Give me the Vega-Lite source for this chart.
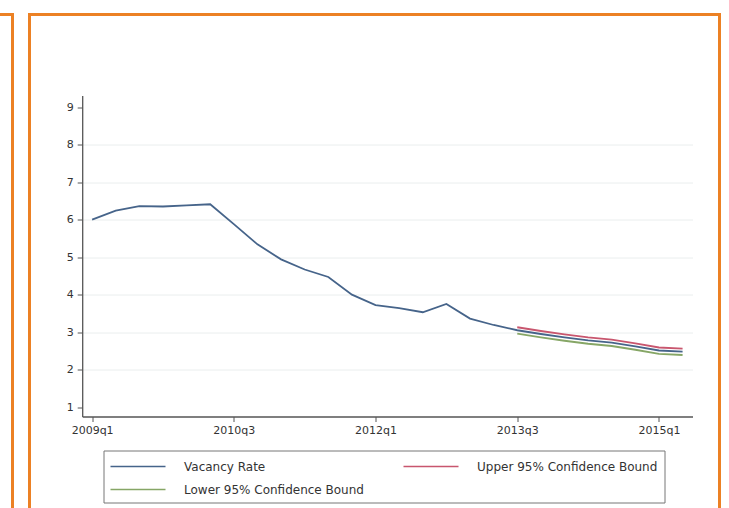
{
  "$schema": "https://vega.github.io/schema/vega-lite/v6.json",
  "padding": {"left": -42.5, "top": 12.5, "right": 0, "bottom": 0},
  "background": "white",
  "spacing": 17,
  "bounds": "flush",
  "config": {
    "view": {"stroke": "#ec8124", "strokeWidth": 3},
    "font": "DejaVu Sans"
  },
  "hconcat": [
    {
      "width": 53,
      "height": 520,
      "view": {"stroke": "#ec8124", "strokeWidth": 3},
      "data": {"values": [{"frame": "left"}]},
      "mark": {"type": "point", "opacity": 0},
      "encoding": {}
    },
    {
      "width": 690,
      "height": 520,
      "data": {
        "values": [
          {"t": 0, "period": "2009q1", "series": "Vacancy Rate", "value": 6.00},
          {"t": 1, "period": "2009q2", "series": "Vacancy Rate", "value": 6.24},
          {"t": 2, "period": "2009q3", "series": "Vacancy Rate", "value": 6.36},
          {"t": 3, "period": "2009q4", "series": "Vacancy Rate", "value": 6.35},
          {"t": 4, "period": "2010q1", "series": "Vacancy Rate", "value": 6.38},
          {"t": 5, "period": "2010q2", "series": "Vacancy Rate", "value": 6.41},
          {"t": 6, "period": "2010q3", "series": "Vacancy Rate", "value": 5.88},
          {"t": 7, "period": "2010q4", "series": "Vacancy Rate", "value": 5.34},
          {"t": 8, "period": "2011q1", "series": "Vacancy Rate", "value": 4.94},
          {"t": 9, "period": "2011q2", "series": "Vacancy Rate", "value": 4.67},
          {"t": 10, "period": "2011q3", "series": "Vacancy Rate", "value": 4.47},
          {"t": 11, "period": "2011q4", "series": "Vacancy Rate", "value": 4.00},
          {"t": 12, "period": "2012q1", "series": "Vacancy Rate", "value": 3.72},
          {"t": 13, "period": "2012q2", "series": "Vacancy Rate", "value": 3.64},
          {"t": 14, "period": "2012q3", "series": "Vacancy Rate", "value": 3.53},
          {"t": 15, "period": "2012q4", "series": "Vacancy Rate", "value": 3.75},
          {"t": 16, "period": "2013q1", "series": "Vacancy Rate", "value": 3.36},
          {"t": 17, "period": "2013q2", "series": "Vacancy Rate", "value": 3.19},
          {"t": 18, "period": "2013q3", "series": "Vacancy Rate", "value": 3.05},
          {"t": 19, "period": "2013q4", "series": "Vacancy Rate", "value": 2.95},
          {"t": 20, "period": "2014q1", "series": "Vacancy Rate", "value": 2.86},
          {"t": 21, "period": "2014q2", "series": "Vacancy Rate", "value": 2.78},
          {"t": 22, "period": "2014q3", "series": "Vacancy Rate", "value": 2.72},
          {"t": 23, "period": "2014q4", "series": "Vacancy Rate", "value": 2.62},
          {"t": 24, "period": "2015q1", "series": "Vacancy Rate", "value": 2.51},
          {"t": 25, "period": "2015q2", "series": "Vacancy Rate", "value": 2.48},
          {"t": 18, "period": "2013q3", "series": "Upper 95% Confidence Bound", "value": 3.13},
          {"t": 19, "period": "2013q4", "series": "Upper 95% Confidence Bound", "value": 3.03},
          {"t": 20, "period": "2014q1", "series": "Upper 95% Confidence Bound", "value": 2.94},
          {"t": 21, "period": "2014q2", "series": "Upper 95% Confidence Bound", "value": 2.86},
          {"t": 22, "period": "2014q3", "series": "Upper 95% Confidence Bound", "value": 2.80},
          {"t": 23, "period": "2014q4", "series": "Upper 95% Confidence Bound", "value": 2.70},
          {"t": 24, "period": "2015q1", "series": "Upper 95% Confidence Bound", "value": 2.59},
          {"t": 25, "period": "2015q2", "series": "Upper 95% Confidence Bound", "value": 2.56},
          {"t": 18, "period": "2013q3", "series": "Lower 95% Confidence Bound", "value": 2.96},
          {"t": 19, "period": "2013q4", "series": "Lower 95% Confidence Bound", "value": 2.86},
          {"t": 20, "period": "2014q1", "series": "Lower 95% Confidence Bound", "value": 2.77},
          {"t": 21, "period": "2014q2", "series": "Lower 95% Confidence Bound", "value": 2.69},
          {"t": 22, "period": "2014q3", "series": "Lower 95% Confidence Bound", "value": 2.63},
          {"t": 23, "period": "2014q4", "series": "Lower 95% Confidence Bound", "value": 2.53},
          {"t": 24, "period": "2015q1", "series": "Lower 95% Confidence Bound", "value": 2.42},
          {"t": 25, "period": "2015q2", "series": "Lower 95% Confidence Bound", "value": 2.39}
        ]
      },
      "mark": {"type": "line", "strokeWidth": 1.8},
      "encoding": {
        "x": {
          "field": "t",
          "type": "quantitative",
          "scale": {"domain": [-0.42, 25.42], "range": [52.7, 663], "nice": false, "zero": false},
          "axis": {
            "orient": "bottom",
            "offset": -118,
            "values": [0, 6, 12, 18, 24],
            "labelExpr": "(2009 + floor(datum.value / 4)) + 'q' + (datum.value % 4 + 1)",
            "title": null,
            "grid": false,
            "domainColor": "#555555",
            "domainWidth": 1.3,
            "tickColor": "#555555",
            "tickSize": 5,
            "tickWidth": 1,
            "labelFontSize": 11,
            "labelColor": "#333333",
            "labelPadding": 3
          }
        },
        "y": {
          "field": "value",
          "type": "quantitative",
          "scale": {"domain": [0.75, 9.31], "range": [402, 81], "nice": false, "zero": false},
          "axis": {
            "orient": "left",
            "offset": -52.7,
            "values": [1, 2, 3, 4, 5, 6, 7, 8, 9],
            "title": null,
            "grid": true,
            "gridColor": {"condition": {"test": "datum.value == 1 || datum.value == 9", "value": "transparent"}, "value": "#eaeeee"},
            "gridWidth": 1,
            "domainColor": "#555555",
            "domainWidth": 1.3,
            "tickColor": "#555555",
            "tickSize": 5,
            "tickWidth": 1,
            "labelFontSize": 11,
            "labelColor": "#333333",
            "labelPadding": 4
          }
        },
        "color": {
          "field": "series",
          "type": "nominal",
          "scale": {
            "domain": ["Vacancy Rate", "Upper 95% Confidence Bound", "Lower 95% Confidence Bound"],
            "range": ["#46648a", "#c8566e", "#86a666"]
          },
          "legend": {
            "title": null,
            "orient": "none",
            "legendX": 144,
            "legendY": 436,
            "direction": "horizontal",
            "columns": 2,
            "symbolType": "M-3.4375,0H3.4375",
            "symbolSize": 256,
            "symbolStrokeWidth": 1.5,
            "symbolOffset": 18.5,
            "labelOffset": 37,
            "columnPadding": 36,
            "rowPadding": 8,
            "padding": 7,
            "strokeColor": "#777777",
            "fillColor": "white",
            "labelFontSize": 12,
            "labelColor": "#333333",
            "labelLimit": 400
          }
        }
      }
    }
  ]
}
